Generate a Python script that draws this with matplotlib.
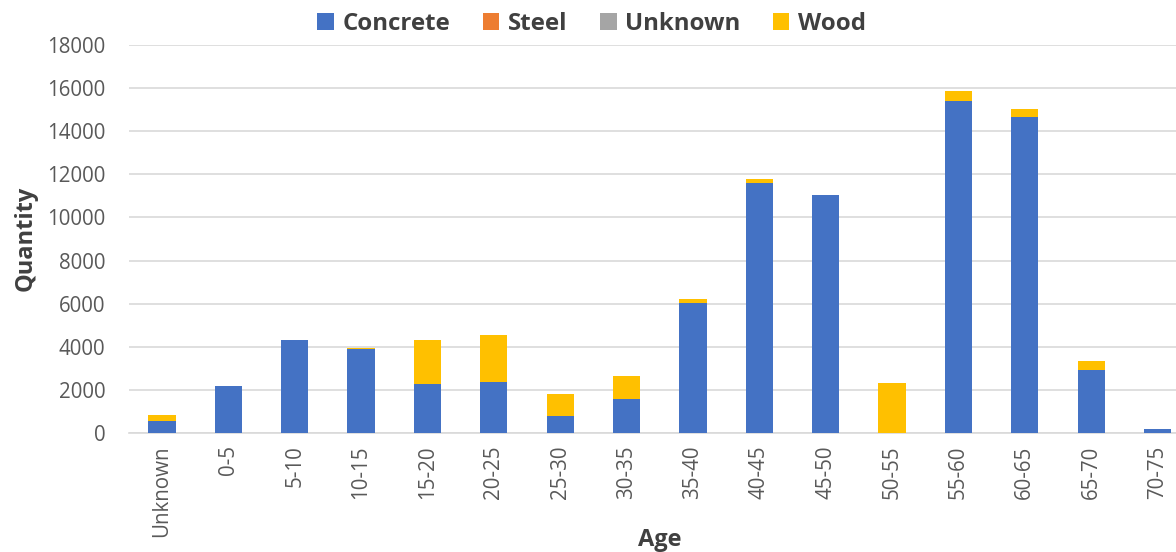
import matplotlib.pyplot as plt
import numpy as np

plt.rcParams['font.family'] = ['Open Sans', 'DejaVu Sans']

ages = ["Unknown", "0-5", "5-10", "10-15", "15-20", "20-25", "25-30", "30-35",
        "35-40", "40-45", "45-50", "50-55", "55-60", "60-65", "65-70", "70-75"]
concrete = [550, 2200, 4320, 3900, 2250, 2350, 780, 1560,
            6050, 11620, 11030, 0, 15420, 14650, 2900, 170]
steel = [0] * 16
unknown = [0] * 16
wood = [300, 0, 0, 50, 2050, 2200, 1050, 1080,
        180, 170, 0, 2300, 450, 390, 450, 0]

series = [("Concrete", concrete, "#4472C4"),
          ("Steel", steel, "#ED7D31"),
          ("Unknown", unknown, "#A5A5A5"),
          ("Wood", wood, "#FFC000")]

fig = plt.figure(figsize=(11.76, 5.52), dpi=100)
ax = fig.add_axes([0.1095, 0.2156, 0.903, 0.7029])

x = np.arange(len(ages))
bottom = np.zeros(len(ages))
for name, vals, col in series:
    vals = np.array(vals, dtype=float)
    ax.bar(x, vals, width=0.41, bottom=bottom, color=col, label=name, zorder=3)
    bottom += vals

ax.set_xlim(-0.5, len(ages) - 0.5)
ax.set_ylim(0, 18000)
ax.set_yticks(range(0, 18001, 2000))
ax.yaxis.grid(True, color="#d9d9d9", linewidth=1.2, zorder=0)
ax.set_xticks(x)
ax.set_xticklabels(ages, rotation=90)
ax.tick_params(axis="both", length=0, labelsize=14.8, labelcolor="#595959")
ax.tick_params(axis="x", pad=9)
ax.tick_params(axis="y", pad=17)
for s in ["top", "right", "left"]:
    ax.spines[s].set_visible(False)
ax.spines["bottom"].set_color("#d9d9d9")
ax.spines["bottom"].set_linewidth(1.2)

fig.text(0.022, 0.569, "Quantity", rotation=90, fontsize=17, fontweight="bold",
         color="#404040", ha="center", va="center")
fig.text(0.561, 0.022, "Age", fontsize=17, fontweight="bold",
         color="#404040", ha="center", va="center")

fig.legend(loc="center", bbox_to_anchor=(0.503, 0.957), ncol=4, frameon=False,
           prop={"size": 17.3, "weight": "bold"}, labelcolor="#404040",
           handlelength=0.7, handleheight=0.7, handletextpad=0.35,
           columnspacing=1.35)

fig.savefig("out.png", dpi=100)
